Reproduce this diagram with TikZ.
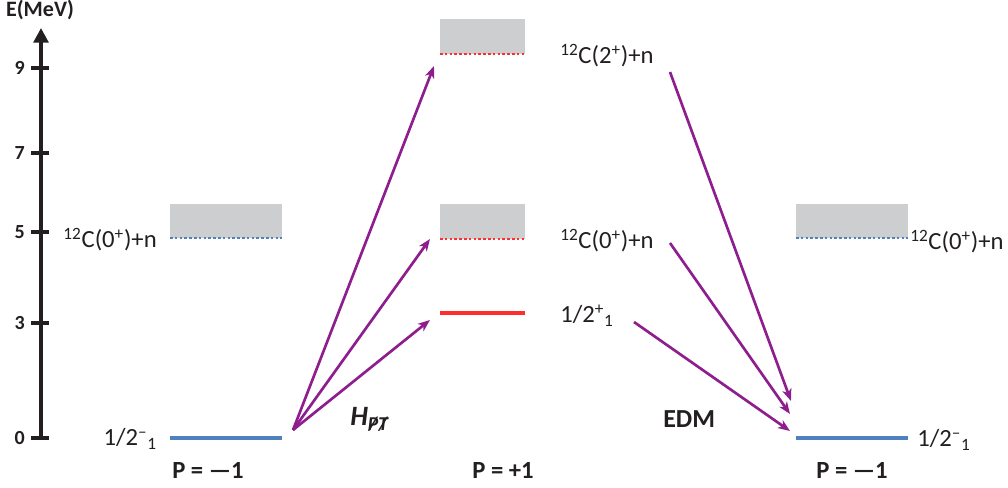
\documentclass[tikz,border=0pt]{standalone}
\usepackage{fontspec}
\setmainfont{Carlito}
\usetikzlibrary{arrows.meta}

\definecolor{lvlblue}{RGB}{79,129,189}
\definecolor{lvlred}{RGB}{255,45,45}
\definecolor{contgrey}{RGB}{205,206,208}
\definecolor{trpurple}{RGB}{142,30,142}
\definecolor{inkblack}{RGB}{35,31,32}

\newcommand\strikeletter[1]{\ooalign{#1\cr\hidewidth/\hidewidth\cr}}

\tikzset{
  axisline/.style={line width=3pt, draw=inkblack},
  tickline/.style={line width=2.6pt, draw=inkblack},
  ticklabel/.style={anchor=base east, inner sep=0pt, text=inkblack,
    font=\fontsize{15}{17}\selectfont\bfseries},
  level/.style={line width=2.4pt},
  threshold/.style={line width=2.2pt, dash pattern=on 2pt off 1.6pt},
  continuum/.style={fill=contgrey, draw=none},
  lvllabel/.style={inner sep=0pt, text=inkblack, font=\fontsize{18.5}{20}\selectfont},
  paritylabel/.style={anchor=base, inner sep=0pt, text=inkblack,
    font=\fontsize{18.5}{20}\selectfont\bfseries},
  transition/.style={draw=trpurple, line width=2pt,
    -{Stealth[length=9pt,width=7pt,inset=2.5pt]}},
}

\begin{document}
\begin{tikzpicture}[x=0.75pt,y=-0.75pt]
\useasboundingbox (0,0) rectangle (1008,488);

% energy axis
\coordinate (axis-bottom) at (41,438);
\coordinate (axis-top) at (41,28);
\draw[axisline, -{Triangle[length=11pt,width=11pt]}] (axis-bottom) -- (axis-top);
\node[anchor=base, inner sep=0pt, text=inkblack,
  font=\fontsize{16.5}{18}\selectfont\bfseries] (axis-title) at (40,17) {E(MeV)};
\foreach \e/\yy in {9/68,7/153,5/232,3/323,0/438}{
  \draw[tickline] (31,\yy) -- (49,\yy);
  \node[ticklabel] (tick-\e) at (25,\yy+7) {\e};
}

% left column, P = -1
\fill[continuum] (170,204) rectangle (282,238);
\draw[threshold, lvlblue] (170,238) -- (282,238);
\draw[level, lvlblue] (170,438) -- (282,438);
\node[lvllabel, anchor=base east] (thr-left) at (157,248)
  {\textsuperscript{12}C(0\textsuperscript{+})+n};
\node[lvllabel, anchor=base east] (gs-left-label) at (157,446)
  {1/2\textsuperscript{–}\textsubscript{1}};
\node[paritylabel] (par-left) at (208,479) {P = —1};

% middle column, P = +1
\fill[continuum] (440,19) rectangle (525,54);
\draw[threshold, lvlred] (440,54) -- (525,54);
\fill[continuum] (440,204) rectangle (525,239);
\draw[threshold, lvlred] (440,239) -- (525,239);
\draw[level, lvlred] (440,313) -- (525,313);
\node[lvllabel, anchor=base west] (thr-mid-two) at (560,64)
  {\textsuperscript{12}C(2\textsuperscript{+})+n};
\node[lvllabel, anchor=base west] (thr-mid-zero) at (560,249)
  {\textsuperscript{12}C(0\textsuperscript{+})+n};
\node[lvllabel, anchor=base west] (ex-mid-label) at (560,323)
  {1/2\textsuperscript{+}\textsubscript{1}};
\node[paritylabel] (par-mid) at (503,479) {P = +1};

% right column, P = -1
\fill[continuum] (796,204) rectangle (908,238);
\draw[threshold, lvlblue] (796,238) -- (908,238);
\draw[level, lvlblue] (796,438) -- (908,438);
\node[lvllabel, anchor=base west] (thr-right) at (910,250)
  {\textsuperscript{12}C(0\textsuperscript{+})+n};
\node[lvllabel, anchor=base west] (gs-right-label) at (917,447)
  {1/2\textsuperscript{–}\textsubscript{1}};
\node[paritylabel] (par-right) at (852,479) {P = —1};

% transition labels
\node[anchor=base west, inner sep=0pt, text=inkblack,
  font=\fontsize{21}{23}\selectfont\bfseries\itshape] (hpt) at (350,426)
  {H\textsubscript{\strikeletter{P}\strikeletter{T}}};
\node[anchor=base west, inner sep=0pt, text=inkblack,
  font=\fontsize{19.5}{21}\selectfont\bfseries] (edm) at (663,428) {EDM};

% transition end points
\coordinate (src-left) at (293,430);
\coordinate (dst-mid-two) at (434,66);
\coordinate (dst-mid-zero) at (430,239);
\coordinate (dst-mid-ex) at (430,320);
\coordinate (src-mid-two) at (670,72);
\coordinate (src-mid-zero) at (670,243);
\coordinate (src-mid-ex) at (634,322);
\coordinate (dst-right-a) at (791,401);
\coordinate (dst-right-b) at (790,414);
\coordinate (dst-right-c) at (790,431);

\draw[transition] (src-left) -- (dst-mid-two);
\draw[transition] (src-left) -- (dst-mid-zero);
\draw[transition] (src-left) -- (dst-mid-ex);
\draw[transition] (src-mid-two) -- (dst-right-a);
\draw[transition] (src-mid-zero) -- (dst-right-b);
\draw[transition] (src-mid-ex) -- (dst-right-c);
\end{tikzpicture}
\end{document}
